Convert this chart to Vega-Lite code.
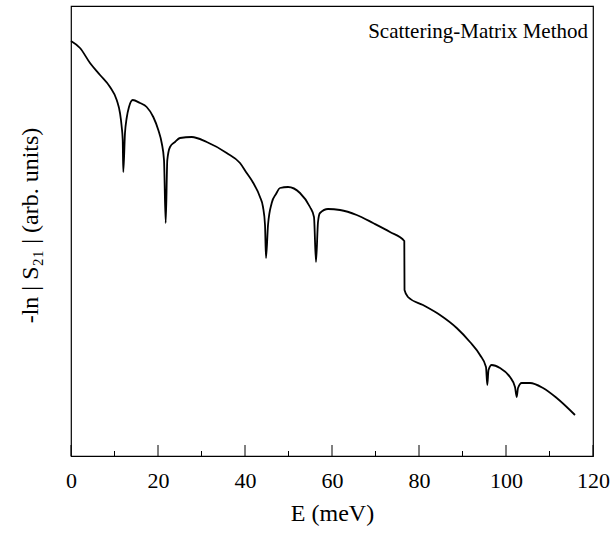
{
  "$schema": "https://vega.github.io/schema/vega-lite/v6.json",
  "width": 522,
  "height": 450,
  "autosize": {"type": "none"},
  "padding": {"left": 71, "top": 6, "right": 19, "bottom": 80},
  "background": "white",
  "config": {
    "view": {"stroke": "black", "strokeWidth": 1.2},
    "font": "Liberation Serif"
  },
  "layer": [
    {
      "data": {"values": [
        {"E": 0, "v": 415}, {"E": 2.07, "v": 408}, {"E": 4.37, "v": 393}, {"E": 6.67, "v": 381},
        {"E": 8.97, "v": 369}, {"E": 10.51, "v": 356}, {"E": 11.26, "v": 343}, {"E": 11.66, "v": 329},
        {"E": 11.89, "v": 316}, {"E": 12.02, "v": 284}, {"E": 12.41, "v": 323}, {"E": 12.8, "v": 338},
        {"E": 13.33, "v": 349}, {"E": 14.18, "v": 356}, {"E": 15.86, "v": 353}, {"E": 17.4, "v": 349},
        {"E": 18.92, "v": 339}, {"E": 20.07, "v": 326}, {"E": 20.85, "v": 313}, {"E": 21.38, "v": 296},
        {"E": 21.77, "v": 233}, {"E": 22.14, "v": 296}, {"E": 22.76, "v": 309}, {"E": 23.91, "v": 314},
        {"E": 25.06, "v": 318}, {"E": 27.75, "v": 319}, {"E": 31.2, "v": 314}, {"E": 35.79, "v": 303},
        {"E": 38.85, "v": 293}, {"E": 40.39, "v": 283}, {"E": 41.91, "v": 273}, {"E": 43.45, "v": 259},
        {"E": 44.14, "v": 249}, {"E": 44.6, "v": 231}, {"E": 44.83, "v": 198}, {"E": 45.29, "v": 231},
        {"E": 46.14, "v": 253}, {"E": 47.13, "v": 262}, {"E": 48.05, "v": 268}, {"E": 49.89, "v": 269},
        {"E": 52.64, "v": 263}, {"E": 54.94, "v": 249}, {"E": 55.86, "v": 239}, {"E": 56.32, "v": 194},
        {"E": 56.78, "v": 234}, {"E": 57.24, "v": 243}, {"E": 59.08, "v": 247}, {"E": 61.84, "v": 246},
        {"E": 65.68, "v": 241}, {"E": 69.43, "v": 233}, {"E": 73.33, "v": 224}, {"E": 76.62, "v": 215},
        {"E": 76.67, "v": 166}, {"E": 77.47, "v": 159}, {"E": 80.92, "v": 151}, {"E": 84.83, "v": 141},
        {"E": 88.67, "v": 128}, {"E": 91.72, "v": 114}, {"E": 94.02, "v": 101}, {"E": 95.4, "v": 89},
        {"E": 95.7, "v": 71}, {"E": 95.98, "v": 86}, {"E": 96.71, "v": 91}, {"E": 98.62, "v": 88},
        {"E": 100.92, "v": 79}, {"E": 102.07, "v": 69}, {"E": 102.46, "v": 59}, {"E": 102.76, "v": 68},
        {"E": 103.61, "v": 73}, {"E": 105.52, "v": 73}, {"E": 108.51, "v": 68}, {"E": 111.66, "v": 58},
        {"E": 115.86, "v": 41}
      ]},
      "mark": {"type": "line", "color": "black", "strokeWidth": 1.8, "interpolate": "monotone"},
      "encoding": {
        "x": {
          "field": "E", "type": "quantitative",
          "scale": {"domain": [0, 120], "nice": false, "zero": false},
          "axis": {
            "orient": "bottom",
            "values": [0, 20, 40, 60, 80, 100, 120],
            "title": "E (meV)",
            "grid": false, "domain": false, "ticks": false,
            "labelFlush": false,
            "labelPadding": 14, "labelFontSize": 22, "labelColor": "black",
            "labelFont": "Liberation Serif",
            "titleFont": "Liberation Serif", "titleFontSize": 24, "titleFontWeight": "normal",
            "titleColor": "black", "titlePadding": 10
          }
        },
        "y": {
          "field": "v", "type": "quantitative",
          "scale": {"domain": [0, 450], "nice": false, "zero": false},
          "axis": {
            "title": "-ln | S₂₁ | (arb. units)",
            "grid": false, "domain": false, "ticks": false, "labels": false,
            "titleFont": "Liberation Serif", "titleFontSize": 24, "titleFontWeight": "normal",
            "titleColor": "black", "titlePadding": 29, "titleY": 219
          }
        }
      }
    },
    {
      "data": {"values": [{"E": 0}, {"E": 20}, {"E": 40}, {"E": 60}, {"E": 80}, {"E": 100}, {"E": 120}]},
      "mark": {"type": "rule", "color": "black", "strokeWidth": 1},
      "encoding": {
        "x": {"field": "E", "type": "quantitative", "scale": {"domain": [0, 120], "nice": false, "zero": false}},
        "y": {"datum": 0, "type": "quantitative"},
        "y2": {"datum": 11}
      }
    },
    {
      "data": {"values": [{"E": 10}, {"E": 30}, {"E": 50}, {"E": 70}, {"E": 90}, {"E": 110}]},
      "mark": {"type": "rule", "color": "black", "strokeWidth": 1},
      "encoding": {
        "x": {"field": "E", "type": "quantitative", "scale": {"domain": [0, 120], "nice": false, "zero": false}},
        "y": {"datum": 0, "type": "quantitative"},
        "y2": {"datum": 5}
      }
    },
    {
      "data": {"values": [{"E": 120, "v": 418, "label": "Scattering-Matrix Method"}]},
      "mark": {"type": "text", "align": "right", "baseline": "alphabetic", "dx": -5, "fontSize": 21, "font": "Liberation Serif", "color": "black"},
      "encoding": {
        "x": {"field": "E", "type": "quantitative", "scale": {"domain": [0, 120], "nice": false, "zero": false}},
        "y": {"field": "v", "type": "quantitative", "scale": {"domain": [0, 450], "nice": false, "zero": false}},
        "text": {"field": "label"}
      }
    }
  ]
}
